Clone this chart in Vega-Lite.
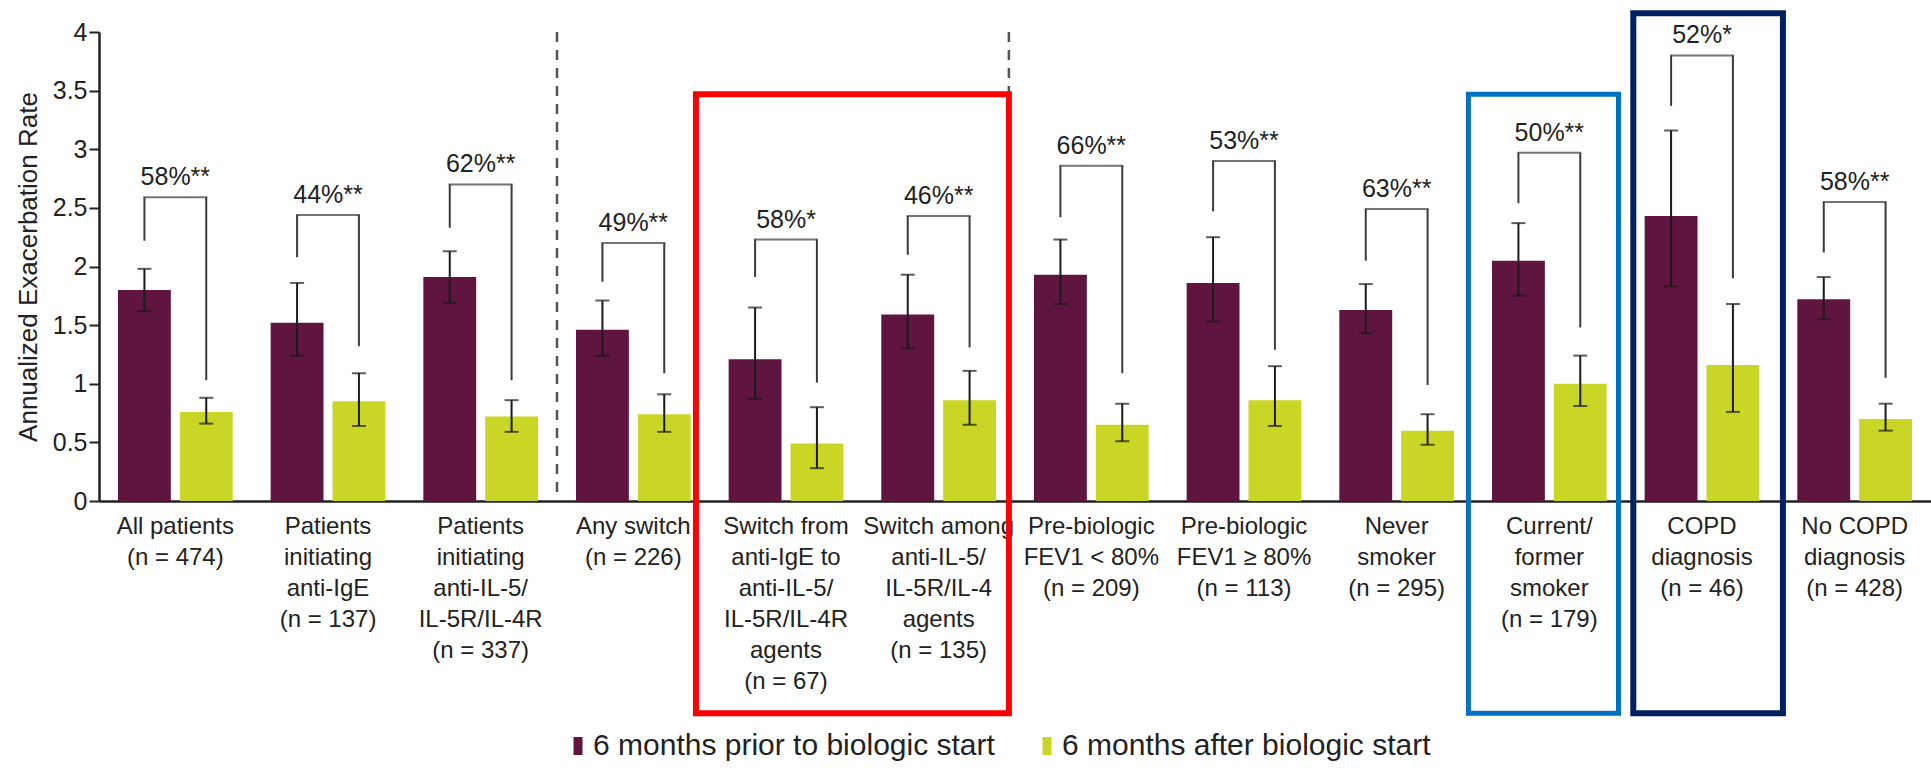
{
  "$schema": "https://vega.github.io/schema/vega-lite/v6.json",
  "width": 1832,
  "height": 469,
  "autosize": {"type": "none"},
  "padding": {"left": 99, "top": 32, "right": 0, "bottom": 271},
  "background": "white",
  "config": {"font": "Liberation Sans", "view": {"stroke": null}},
  "datasets": {
    "main": [
      {"group": "All patients|(n = 474)", "series": "6 months prior to biologic start", "value": 1.80, "lo": 1.62, "hi": 1.98, "leg": 2.22, "top": 2.59, "pct": "58%**"},
      {"group": "All patients|(n = 474)", "series": "6 months after biologic start", "value": 0.76, "lo": 0.66, "hi": 0.88, "leg": 1.03, "top": 2.59, "pct": "58%**"},
      {"group": "Patients|initiating|anti-IgE|(n = 137)", "series": "6 months prior to biologic start", "value": 1.52, "lo": 1.24, "hi": 1.86, "leg": 2.08, "top": 2.44, "pct": "44%**"},
      {"group": "Patients|initiating|anti-IgE|(n = 137)", "series": "6 months after biologic start", "value": 0.85, "lo": 0.64, "hi": 1.09, "leg": 1.32, "top": 2.44, "pct": "44%**"},
      {"group": "Patients|initiating|anti-IL-5/|IL-5R/IL-4R|(n = 337)", "series": "6 months prior to biologic start", "value": 1.91, "lo": 1.69, "hi": 2.13, "leg": 2.33, "top": 2.70, "pct": "62%**"},
      {"group": "Patients|initiating|anti-IL-5/|IL-5R/IL-4R|(n = 337)", "series": "6 months after biologic start", "value": 0.72, "lo": 0.59, "hi": 0.86, "leg": 1.03, "top": 2.70, "pct": "62%**"},
      {"group": "Any switch|(n = 226)", "series": "6 months prior to biologic start", "value": 1.46, "lo": 1.24, "hi": 1.71, "leg": 1.87, "top": 2.20, "pct": "49%**"},
      {"group": "Any switch|(n = 226)", "series": "6 months after biologic start", "value": 0.74, "lo": 0.59, "hi": 0.91, "leg": 1.09, "top": 2.20, "pct": "49%**"},
      {"group": "Switch from|anti-IgE to|anti-IL-5/|IL-5R/IL-4R|agents|(n = 67)", "series": "6 months prior to biologic start", "value": 1.21, "lo": 0.87, "hi": 1.65, "leg": 1.91, "top": 2.23, "pct": "58%*"},
      {"group": "Switch from|anti-IgE to|anti-IL-5/|IL-5R/IL-4R|agents|(n = 67)", "series": "6 months after biologic start", "value": 0.49, "lo": 0.28, "hi": 0.80, "leg": 1.01, "top": 2.23, "pct": "58%*"},
      {"group": "Switch among|anti-IL-5/|IL-5R/IL-4|agents|(n = 135)", "series": "6 months prior to biologic start", "value": 1.59, "lo": 1.30, "hi": 1.93, "leg": 2.10, "top": 2.43, "pct": "46%**"},
      {"group": "Switch among|anti-IL-5/|IL-5R/IL-4|agents|(n = 135)", "series": "6 months after biologic start", "value": 0.86, "lo": 0.65, "hi": 1.11, "leg": 1.31, "top": 2.43, "pct": "46%**"},
      {"group": "Pre-biologic|FEV1 < 80%|(n = 209)", "series": "6 months prior to biologic start", "value": 1.93, "lo": 1.68, "hi": 2.23, "leg": 2.42, "top": 2.86, "pct": "66%**"},
      {"group": "Pre-biologic|FEV1 < 80%|(n = 209)", "series": "6 months after biologic start", "value": 0.65, "lo": 0.51, "hi": 0.83, "leg": 1.09, "top": 2.86, "pct": "66%**"},
      {"group": "Pre-biologic|FEV1 ≥ 80%|(n = 113)", "series": "6 months prior to biologic start", "value": 1.86, "lo": 1.53, "hi": 2.25, "leg": 2.47, "top": 2.90, "pct": "53%**"},
      {"group": "Pre-biologic|FEV1 ≥ 80%|(n = 113)", "series": "6 months after biologic start", "value": 0.86, "lo": 0.64, "hi": 1.15, "leg": 1.29, "top": 2.90, "pct": "53%**"},
      {"group": "Never|smoker|(n = 295)", "series": "6 months prior to biologic start", "value": 1.63, "lo": 1.43, "hi": 1.85, "leg": 2.05, "top": 2.49, "pct": "63%**"},
      {"group": "Never|smoker|(n = 295)", "series": "6 months after biologic start", "value": 0.60, "lo": 0.48, "hi": 0.74, "leg": 0.99, "top": 2.49, "pct": "63%**"},
      {"group": "Current/|former|smoker|(n = 179)", "series": "6 months prior to biologic start", "value": 2.05, "lo": 1.75, "hi": 2.37, "leg": 2.54, "top": 2.97, "pct": "50%**"},
      {"group": "Current/|former|smoker|(n = 179)", "series": "6 months after biologic start", "value": 1.00, "lo": 0.81, "hi": 1.24, "leg": 1.48, "top": 2.97, "pct": "50%**"},
      {"group": "COPD|diagnosis|(n = 46)", "series": "6 months prior to biologic start", "value": 2.43, "lo": 1.83, "hi": 3.16, "leg": 3.37, "top": 3.80, "pct": "52%*"},
      {"group": "COPD|diagnosis|(n = 46)", "series": "6 months after biologic start", "value": 1.16, "lo": 0.76, "hi": 1.68, "leg": 1.90, "top": 3.80, "pct": "52%*"},
      {"group": "No COPD|diagnosis|(n = 428)", "series": "6 months prior to biologic start", "value": 1.72, "lo": 1.55, "hi": 1.91, "leg": 2.12, "top": 2.55, "pct": "58%**"},
      {"group": "No COPD|diagnosis|(n = 428)", "series": "6 months after biologic start", "value": 0.70, "lo": 0.60, "hi": 0.83, "leg": 1.05, "top": 2.55, "pct": "58%**"}
    ]
  },
  "layer": [
    {
      "data": {"name": "main"},
      "mark": {"type": "bar"},
      "encoding": {
        "x": {
          "field": "group", "type": "nominal",
          "scale": {
            "domain": [
              "All patients|(n = 474)",
              "Patients|initiating|anti-IgE|(n = 137)",
              "Patients|initiating|anti-IL-5/|IL-5R/IL-4R|(n = 337)",
              "Any switch|(n = 226)",
              "Switch from|anti-IgE to|anti-IL-5/|IL-5R/IL-4R|agents|(n = 67)",
              "Switch among|anti-IL-5/|IL-5R/IL-4|agents|(n = 135)",
              "Pre-biologic|FEV1 < 80%|(n = 209)",
              "Pre-biologic|FEV1 ≥ 80%|(n = 113)",
              "Never|smoker|(n = 295)",
              "Current/|former|smoker|(n = 179)",
              "COPD|diagnosis|(n = 46)",
              "No COPD|diagnosis|(n = 428)"
            ],
            "paddingInner": 0, "paddingOuter": 0
          },
          "axis": {
            "title": null,
            "labelExpr": "split(datum.label, '|')",
            "labelAngle": 0,
            "labelFontSize": 24,
            "labelColor": "#222222",
            "labelBaseline": "alphabetic",
            "labelLineHeight": 31,
            "labelPadding": 32,
            "labelLimit": 0,
            "ticks": false,
            "tickSize": 0,
            "domainColor": "#222222",
            "domainWidth": 2.5
          }
        },
        "xOffset": {
          "field": "series", "type": "nominal",
          "scale": {"domain": ["6 months prior to biologic start", "6 months after biologic start"], "paddingInner": 0.145, "paddingOuter": 0.307}
        },
        "y": {
          "field": "value", "type": "quantitative",
          "scale": {"domain": [0, 4], "nice": false},
          "axis": {
            "title": "Annualized Exacerbation Rate",
            "titleFontSize": 26,
            "titleFontWeight": "normal",
            "titleColor": "#222222",
            "titlePadding": 11,
            "values": [0, 0.5, 1, 1.5, 2, 2.5, 3, 3.5, 4],
            "format": "~g",
            "labelFontSize": 25,
            "labelColor": "#222222",
            "labelPadding": 2,
            "tickSize": 10,
            "tickWidth": 2,
            "tickColor": "#222222",
            "domainColor": "#222222",
            "domainWidth": 2.5,
            "grid": false
          }
        },
        "color": {
          "field": "series", "type": "nominal",
          "scale": {"domain": ["6 months prior to biologic start", "6 months after biologic start"], "range": ["#5f1540", "#c9d626"]},
          "legend": {
            "title": null,
            "orient": "none",
            "direction": "horizontal",
            "legendX": 464,
            "legendY": 699,
            "symbolType": "M-0.5,-1H0.5V1H-0.5Z",
            "symbolSize": 324,
            "symbolStrokeWidth": 0,
            "labelFontSize": 30,
            "labelColor": "#222222",
            "labelOffset": 0,
            "columnPadding": 37,
            "labelLimit": 0
          }
        }
      }
    },
    {
      "data": {"name": "main"},
      "mark": {"type": "rule", "color": "#1a1a1a", "strokeWidth": 2},
      "encoding": {
        "x": {"field": "group", "type": "nominal"},
        "xOffset": {"field": "series", "type": "nominal"},
        "y": {"field": "lo", "type": "quantitative"},
        "y2": {"field": "hi"}
      }
    },
    {
      "data": {"name": "main"},
      "mark": {"type": "tick", "color": "#1a1a1a", "size": 14, "thickness": 2},
      "encoding": {
        "x": {"field": "group", "type": "nominal"},
        "xOffset": {"field": "series", "type": "nominal"},
        "y": {"field": "lo", "type": "quantitative"}
      }
    },
    {
      "data": {"name": "main"},
      "mark": {"type": "tick", "color": "#1a1a1a", "size": 14, "thickness": 2},
      "encoding": {
        "x": {"field": "group", "type": "nominal"},
        "xOffset": {"field": "series", "type": "nominal"},
        "y": {"field": "hi", "type": "quantitative"}
      }
    },
    {
      "data": {"name": "main"},
      "mark": {"type": "rule", "color": "#3a3a3a", "strokeWidth": 2},
      "encoding": {
        "x": {"field": "group", "type": "nominal"},
        "xOffset": {"field": "series", "type": "nominal"},
        "y": {"field": "leg", "type": "quantitative"},
        "y2": {"field": "top"}
      }
    },
    {
      "data": {"name": "main"},
      "transform": [{"filter": "datum.series == '6 months prior to biologic start'"}],
      "mark": {"type": "tick", "color": "#3a3a3a", "size": 64, "thickness": 2},
      "encoding": {
        "x": {"field": "group", "type": "nominal"},
        "y": {"field": "top", "type": "quantitative"}
      }
    },
    {
      "data": {"name": "main"},
      "transform": [{"filter": "datum.series == '6 months prior to biologic start'"}],
      "mark": {"type": "text", "fontSize": 25, "color": "#222222", "baseline": "alphabetic", "align": "center", "dy": -12},
      "encoding": {
        "x": {"field": "group", "type": "nominal"},
        "y": {"field": "top", "type": "quantitative"},
        "text": {"field": "pct"}
      }
    },
    {
      "data": {"values": [{"group": "Patients|initiating|anti-IL-5/|IL-5R/IL-4R|(n = 337)"}]},
      "mark": {"type": "rule", "color": "#555555", "strokeWidth": 2.5, "strokeDash": [10, 8]},
      "encoding": {
        "x": {"field": "group", "type": "nominal", "bandPosition": 1}
      }
    },
    {
      "data": {"values": [{"group": "Switch among|anti-IL-5/|IL-5R/IL-4|agents|(n = 135)"}]},
      "mark": {"type": "rule", "color": "#555555", "strokeWidth": 2.5, "strokeDash": [10, 8]},
      "encoding": {
        "x": {"field": "group", "type": "nominal", "bandPosition": 0.96}
      }
    },
    {
      "data": {"values": [{"from": "Any switch|(n = 226)", "to": "Switch among|anti-IL-5/|IL-5R/IL-4|agents|(n = 135)", "ytop": 3.47, "ybottom": -1.81}]},
      "mark": {"type": "rect", "fill": null, "filled": false, "stroke": "#ff0000", "strokeWidth": 6},
      "encoding": {
        "x": {"field": "from", "type": "nominal", "bandPosition": 0.91},
        "x2": {"field": "to", "bandPosition": 0.96},
        "y": {"field": "ytop", "type": "quantitative"},
        "y2": {"field": "ybottom"}
      }
    },
    {
      "data": {"values": [{"from": "Never|smoker|(n = 295)", "to": "Current/|former|smoker|(n = 179)", "ytop": 3.47, "ybottom": -1.81}]},
      "mark": {"type": "rect", "fill": null, "filled": false, "stroke": "#0070c0", "strokeWidth": 5},
      "encoding": {
        "x": {"field": "from", "type": "nominal", "bandPosition": 0.97},
        "x2": {"field": "to", "bandPosition": 0.953},
        "y": {"field": "ytop", "type": "quantitative"},
        "y2": {"field": "ybottom"}
      }
    },
    {
      "data": {"values": [{"from": "COPD|diagnosis|(n = 46)", "to": "No COPD|diagnosis|(n = 428)", "ytop": 4.16, "ybottom": -1.81}]},
      "mark": {"type": "rect", "fill": null, "filled": false, "stroke": "#002060", "strokeWidth": 6},
      "encoding": {
        "x": {"field": "from", "type": "nominal", "bandPosition": 0.05},
        "x2": {"field": "to", "bandPosition": 0.03},
        "y": {"field": "ytop", "type": "quantitative"},
        "y2": {"field": "ybottom"}
      }
    }
  ]
}
